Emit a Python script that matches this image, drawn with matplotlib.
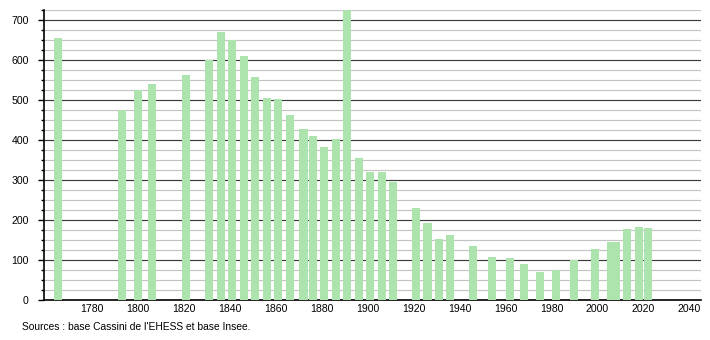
import matplotlib.pyplot as plt
from matplotlib.ticker import MultipleLocator

# Census years and population
years = [1765, 1793, 1800, 1806, 1821, 1831, 1836, 1841, 1846, 1851,
         1856, 1861, 1866, 1872, 1876, 1881, 1886, 1891, 1896, 1901,
         1906, 1911, 1921, 1926, 1931, 1936, 1946, 1954, 1962, 1968,
         1975, 1982, 1990, 1999, 2006, 2008, 2013, 2018, 2022]
population = [655, 475, 525, 540, 562, 600, 670, 650, 610, 557,
              505, 502, 462, 427, 410, 382, 402, 725, 355, 320,
              320, 295, 230, 192, 152, 162, 135, 107, 105, 90,
              70, 74, 100, 127, 145, 145, 177, 182, 180]
x_ticks = [1780, 1800, 1820, 1840, 1860, 1880, 1900, 1920, 1940, 1960, 1980, 2000, 2020, 2040]
source_text = "Sources : base Cassini de l'EHESS et base Insee."

plt.rcParams['font.family'] = ['Liberation Sans', 'DejaVu Sans']

fig = plt.figure(figsize=(7.1, 3.4), dpi=100)
ax = fig.add_axes([0.062, 0.1176, 0.925, 0.853])

ax.bar(years, population, width=3.5, color="#ade3ad", zorder=3)

ax.set_xlim(1759, 2045)
ax.set_ylim(0, 725)
ax.set_xticks(x_ticks)
ax.yaxis.set_major_locator(MultipleLocator(100))
ax.yaxis.set_minor_locator(MultipleLocator(25))

# dark lines every 100, light lines every 25
ax.grid(axis="y", which="major", color="#3a3a3a", linewidth=0.85, zorder=1)
ax.grid(axis="y", which="minor", color="#c4c4c4", linewidth=0.85, zorder=1)

for side in ["top", "right"]:
    ax.spines[side].set_visible(False)
ax.spines["left"].set_linewidth(1.2)
ax.spines["bottom"].set_linewidth(1.2)

ax.tick_params(axis="y", which="major", length=4, width=1, labelsize=7.6, pad=7)
ax.tick_params(axis="y", which="minor", length=2.2, width=1)
ax.tick_params(axis="x", length=0, labelsize=7.6, pad=3)

fig.text(0.031, 0.038, source_text, fontsize=7.4, ha="left", va="center")

fig.savefig("out.png", dpi=100)
